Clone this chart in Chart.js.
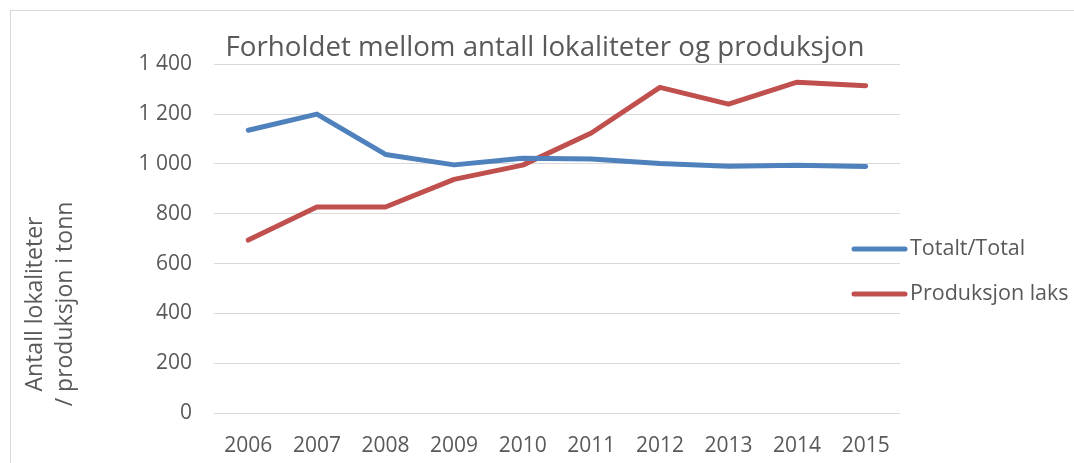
<!DOCTYPE html>
<html>
<head>
<meta charset="utf-8">
<script src="https://cdn.jsdelivr.net/npm/chart.js@4"></script>
<style>
  html, body { margin: 0; padding: 0; background: #fff; }
  #frame { position: absolute; left: 10px; top: 10px; width: 1100px; height: 500px; border: 1px solid #d9d9d9; }
  #wrap { position: absolute; left: 0; top: 0; width: 1074px; height: 463px; }
</style>
</head>
<body>
<div id="frame"></div>
<div id="wrap"><canvas id="chart"></canvas></div>
<script>
const years = ['2006', '2007', '2008', '2009', '2010', '2011', '2012', '2013', '2014', '2015'];
const totalt = [1135, 1200, 1038, 996, 1023, 1020, 1002, 991, 995, 990];
const laks = [694, 827, 827, 938, 995, 1124, 1307, 1240, 1328, 1314];
const seriesNames = ['Totalt/Total', 'Produksjon laks'];
const chartTitle = 'Forholdet mellom antall lokaliteter og produksjon';
const yTitle = ['Antall lokaliteter', '/ produksjon i tonn'];

const FONT = '"Open Sans", sans-serif';
const TEXT = '#595959';

// y-axis title and legend are placed by hand like in the Excel original
const extras = {
    id: 'extras',
    afterDraw(chart) {
        const ctx = chart.ctx;
        ctx.save();
        ctx.fillStyle = TEXT;
        ctx.font = '23px ' + FONT;
        ctx.textAlign = 'center';
        ctx.textBaseline = 'middle';
        yTitle.forEach((t, i) => {
            ctx.save();
            ctx.translate(35 + i * 30, 304);
            ctx.rotate(-Math.PI / 2);
            ctx.fillText(t, 0, 0);
            ctx.restore();
        });
        ctx.font = '21.5px ' + FONT;
        chart.data.datasets.forEach((ds, i) => {
            const y = 249 + i * 45;
            ctx.strokeStyle = ds.borderColor;
            ctx.lineWidth = 5;
            ctx.lineCap = 'round';
            ctx.beginPath();
            ctx.moveTo(854, y);
            ctx.lineTo(905, y);
            ctx.stroke();
            ctx.textAlign = 'left';
            ctx.fillText(ds.label, 910, y);
        });
        ctx.restore();
    }
};

new Chart(document.getElementById('chart'), {
    type: 'line',
    data: {
        labels: years,
        datasets: [{
            label: seriesNames[0],
            data: totalt,
            borderColor: '#4f81bd',
            backgroundColor: '#4f81bd'
        }, {
            label: seriesNames[1],
            data: laks,
            borderColor: '#c0504d',
            backgroundColor: '#c0504d'
        }]
    },
    options: {
        responsive: true,
        maintainAspectRatio: false,
        animation: false,
        layout: { padding: { left: 16, right: 0, top: 0, bottom: 0 } },
        elements: {
            line: { borderWidth: 5, tension: 0, borderCapStyle: 'round', borderJoinStyle: 'round' },
            point: { radius: 0 }
        },
        plugins: {
            legend: { display: false },
            tooltip: { enabled: false },
            title: {
                display: true,
                text: chartTitle,
                color: TEXT,
                font: { family: FONT, size: 27.7, weight: 'normal' },
                padding: { top: 31, bottom: 0 }
            }
        },
        scales: {
            x: {
                offset: true,
                grid: { display: false },
                border: { display: false },
                ticks: { color: TEXT, font: { family: FONT, size: 21 }, padding: 12 },
                afterFit(scale) { scale.height = 50; }
            },
            y: {
                min: 0,
                max: 1400,
                grid: { color: '#d9d9d9', lineWidth: 1, drawTicks: false },
                border: { display: false },
                ticks: {
                    stepSize: 200,
                    color: TEXT,
                    font: { family: FONT, size: 21 },
                    padding: 22,
                    callback: v => String(v).replace(/\B(?=(\d{3})+(?!\d))/g, ' ')
                },
                afterFit(scale) { scale.width = 198; }
            },
            // empty axis that keeps room for the legend on the right
            spacer: {
                type: 'linear',
                position: 'right',
                grid: { display: false },
                border: { display: false },
                ticks: { display: false },
                afterFit(scale) { scale.width = 174; }
            }
        }
    },
    plugins: [extras]
});
</script>
</body>
</html>
